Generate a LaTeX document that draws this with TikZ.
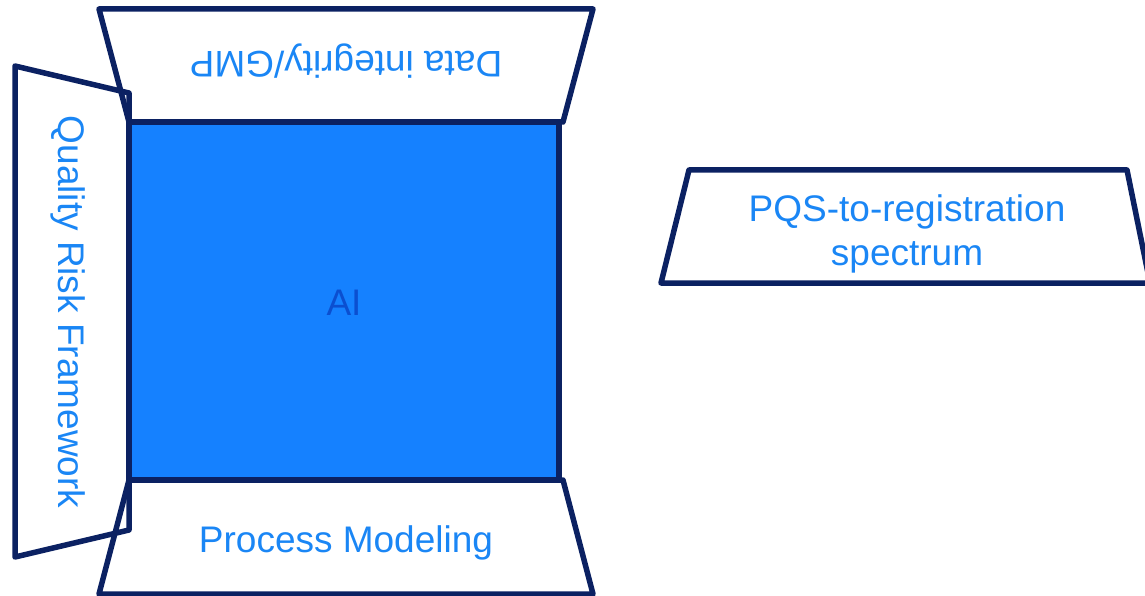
\documentclass[tikz,border=0pt]{standalone}
\usepackage{fontspec}
\setmainfont{Liberation Sans}
\definecolor{navy}{HTML}{0B2162}
\definecolor{aiblue}{HTML}{1581FF}
\definecolor{txtblue}{HTML}{1A86F5}
\definecolor{aitext}{HTML}{0B4FD0}
\tikzset{
  label/.style={text=txtblue, font=\fontsize{37}{44}\selectfont, align=center, inner sep=0pt},
}
\begin{document}
\begin{tikzpicture}[x=1pt, y=-1pt, line join=round, line cap=round, line width=5.5pt]
		\useasboundingbox (0,0) rectangle (1145,596);
		\coordinate (A) at (129,122);
		\coordinate (B) at (559,122);
		\coordinate (C) at (559,480);
		\coordinate (D) at (129,480);
		% central square
		\draw[navy, fill=aiblue] (A)--(B)--(C)--(D)--cycle;
		% surrounding frames
		\draw[navy] (A)--(99,9)--(593,9)--(563,122)--cycle;
		\draw[navy] (D)--(563,480)--(593,594)--(99,594)--cycle;
		\draw[navy] (129,93)--(15,66)--(15,557)--(129,530)--cycle;
		\draw[navy] (689,170)--(1127,170)--(1150,283)--(661,283)--cycle;
		\node[label, rotate=180] (dig) at (346,61) {Data integrity/GMP};
		\node[label, rotate=-90] (qrf) at (68,312) {Quality Risk Framework};
		\node[label] (pm) at (346,543) {Process Modeling};
		\node[label, text=aitext] (ai) at (344,303) {AI};
		\node[label] (pqs) at (907,234) {PQS-to-registration\\spectrum};
	\end{tikzpicture}
\end{document}
